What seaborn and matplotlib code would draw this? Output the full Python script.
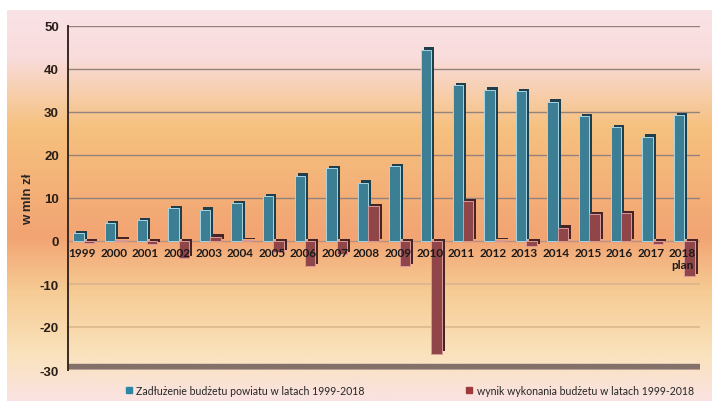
import matplotlib
matplotlib.use("Agg")
import matplotlib.pyplot as plt
import matplotlib.patheffects as pe
from matplotlib.colors import LinearSegmentedColormap
import numpy as np
import pandas as pd
import seaborn as sns

YEARS = ["1999", "2000", "2001", "2002", "2003", "2004", "2005", "2006", "2007",
         "2008", "2009", "2010", "2011", "2012", "2013", "2014", "2015", "2016",
         "2017", "2018"]
YEAR_LABELS = YEARS[:-1] + ["2018\nplan"]

ZADLUZENIE = [1.8, 4.2, 4.8, 7.6, 7.3, 8.9, 10.4, 15.2, 17.0, 13.6, 17.4, 44.5,
              36.2, 35.2, 34.8, 32.4, 29.0, 26.5, 24.3, 29.2]
WYNIK = [-0.5, 0.3, -0.7, -4.0, 1.0, 0.2, -2.5, -5.8, -3.0, 8.1, -5.9, -26.2,
         9.2, 0.2, -1.2, 3.1, 6.2, 6.5, -0.6, -8.2]

SERIES = ["Zadłużenie budżetu powiatu w latach 1999-2018",
          "wynik wykonania budżetu w latach 1999-2018"]
COLORS = ["#2D86A4", "#9C3A3C"]
EDGES = ["#A6D6E6", "#D99A9A"]

df = pd.DataFrame({
    "rok": YEARS * 2,
    "wartosc": ZADLUZENIE + WYNIK,
    "seria": [SERIES[0]] * len(YEARS) + [SERIES[1]] * len(YEARS),
})

sns.set_style("white")
plt.rcParams["font.family"] = ["Liberation Sans", "DejaVu Sans"]
plt.rcParams["axes.unicode_minus"] = False

fig = plt.figure(figsize=(7.12, 4.02), dpi=100)
fig.patch.set_facecolor("white")

# gradient panel behind everything
bg = fig.add_axes([7 / 712, 0, 1 - 7 / 712, 1 - 11 / 402], zorder=-10)
stops = [(0.0, "#FAE3E6"), (0.12, "#F9DCDC"), (0.30, "#F6C17E"),
         (0.58, "#F2A473"), (0.72, "#F6CB94"), (0.88, "#FAE2BC"),
         (1.0, "#FAE2E2")]
cmap = LinearSegmentedColormap.from_list("bg", stops)
bg.imshow(np.linspace(0, 1, 256).reshape(-1, 1), aspect="auto", cmap=cmap,
          extent=[0, 1, 0, 1])
bg.axis("off")

ax = fig.add_axes([68 / 712, 1 - 371 / 402, 632 / 712, 344 / 402])
ax.patch.set_alpha(0)

sns.barplot(data=df, x="rok", y="wartosc", hue="seria", palette=COLORS,
            width=0.66, ax=ax, legend=False, zorder=3, linewidth=0.7)

n = len(YEARS)
for k, patch in enumerate(ax.patches[:2 * n]):
    fc = patch.get_facecolor()
    patch.set_edgecolor(EDGES[k // n])
    dark = tuple(c * 0.5 for c in fc[:3]) + (1,)
    patch.set_path_effects([pe.SimplePatchShadow(offset=(2.2, 1.6),
                                                 shadow_rgbFace=dark,
                                                 alpha=1.0),
                            pe.Normal()])

ax.set_ylim(-30, 50)
ax.set_xlim(-0.5, n - 0.5)
ax.set_yticks(range(-30, 51, 10))

for y in range(10, 51, 10):
    ax.axhline(y, color="#94827C", linewidth=1.0, zorder=1)
ax.axhline(0, color="#B89080", linewidth=1.0, zorder=1)
for y in (-10, -20):
    ax.axhline(y, color="#D9B48C", linewidth=1.1, zorder=1)

# floor slab
ax.axhspan(-30, -28.5, color="#84706A", zorder=2)
ax.axhline(-30, color="#C4A99B", linewidth=1.2, zorder=2)

for i, lab in enumerate(YEAR_LABELS):
    ax.text(i - 0.05, -1.3, lab, ha="center", va="top", fontsize=8.5,
            fontweight="bold", color="#1A1A1A", linespacing=1.15, zorder=5,
            family=["Lato", "DejaVu Sans"])

ax.set_xticks([])
ax.set_xlabel("")
ax.set_ylabel("w mln zł", fontsize=9.5, fontweight="bold", labelpad=4)
ax.tick_params(axis="y", direction="inout", length=7, width=1.2,
               colors="#3A2A22", labelsize=9.5, pad=3)
for lbl in ax.get_yticklabels():
    lbl.set_fontweight("bold")
    lbl.set_color("#2A1E18")

for side in ("top", "right", "bottom"):
    ax.spines[side].set_visible(False)
ax.spines["left"].set_color("#3A2A22")
ax.spines["left"].set_linewidth(1.4)

handles = [plt.Line2D([], [], marker="s", linestyle="", markersize=4.5,
                      color=c) for c in COLORS]
fig.legend(handles, SERIES, loc="lower center", ncol=2, frameon=False,
           bbox_to_anchor=(0.575, -0.01), columnspacing=9.5,
           handletextpad=0.3, handlelength=0.8,
           prop={"family": ["Lato", "DejaVu Sans"], "size": 7.6})

fig.savefig("out.png", dpi=100, facecolor="white")
